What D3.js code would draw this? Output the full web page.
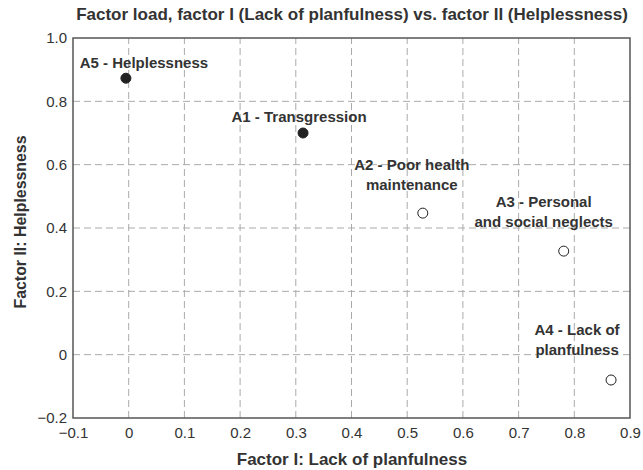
<!DOCTYPE html>
<html>
  <head>
    <meta charset="utf-8">
    <title>Factor load</title>
    <script src="https://d3js.org/d3.v7.min.js"></script>
    <style>
      body { margin: 0; background: #fff; font-family: "Liberation Sans", Arial, sans-serif; }
      .tick text { font-size: 15px; fill: #333; }
      .grid line { stroke: #aaa; stroke-dasharray: 7,4; }
      .lbl { font-size: 15px; font-weight: bold; fill: #333; }
      .ttl { font-size: 17px; font-weight: bold; fill: #333; }
    </style>
  </head>
  <body>
    <svg id="chart" width="643" height="470"></svg>
    <script>
      // data
      var names = ["A5", "A1", "A2", "A3", "A4"];
      var factor1 = [-0.005, 0.313, 0.528, 0.781, 0.866];
      var factor2 = [0.873, 0.700, 0.447, 0.327, -0.080];
      var filled = [true, true, false, false, false];
      var labels = [
        ["A5 - Helplessness"],
        ["A1 - Transgression"],
        ["A2 - Poor health", "maintenance"],
        ["A3 - Personal", "and social neglects"],
        ["A4 - Lack of", "planfulness"]
      ];
      var xTicks = [-0.1, 0, 0.1, 0.2, 0.3, 0.4, 0.5, 0.6, 0.7, 0.8, 0.9];
      var yTicks = [-0.2, 0, 0.2, 0.4, 0.6, 0.8, 1.0];

      // label placement relative to point (px)
      var labelOffsets = [[18, -10], [-4, -11], [-11, -43], [-20, -44], [-34, -45]];

      var margin = { top: 38, right: 13, bottom: 52, left: 73 };
      var width = 643, height = 470;
      var svg = d3.select("#chart");

      var x = d3.scaleLinear().domain([-0.1, 0.9]).range([margin.left, width - margin.right]);
      var y = d3.scaleLinear().domain([-0.2, 1.0]).range([height - margin.bottom, margin.top]);

      var fmt = function(d) { return d === 0 ? "0" : d3.format(".1f")(d); };

      // grid
      svg.append("g").attr("class", "grid")
        .selectAll("line").data(xTicks.slice(1, -1)).enter().append("line")
          .attr("x1", function(d) { return x(d); }).attr("x2", function(d) { return x(d); })
          .attr("y1", y(-0.2)).attr("y2", y(1.0));
      svg.append("g").attr("class", "grid")
        .selectAll("line").data(yTicks.slice(1, -1)).enter().append("line")
          .attr("y1", function(d) { return y(d); }).attr("y2", function(d) { return y(d); })
          .attr("x1", x(-0.1)).attr("x2", x(0.9));

      // axes
      var xAxis = d3.axisBottom(x).tickValues(xTicks).tickFormat(fmt).tickSize(0).tickPadding(7);
      var yAxis = d3.axisLeft(y).tickValues(yTicks).tickFormat(fmt).tickSize(0).tickPadding(6);
      svg.append("g").attr("transform", "translate(0," + (height - margin.bottom) + ")").call(xAxis)
        .call(function(g) { g.select(".domain").remove(); })
        .selectAll("text").attr("dy", "0.85em");
      svg.append("g").attr("transform", "translate(" + margin.left + ",0)").call(yAxis)
        .call(function(g) { g.select(".domain").remove(); });

      // frame
      svg.append("rect")
        .attr("x", x(-0.1)).attr("y", y(1.0))
        .attr("width", x(0.9) - x(-0.1)).attr("height", y(-0.2) - y(1.0))
        .attr("fill", "none").attr("stroke", "#555").attr("stroke-width", 1.5);

      // points
      svg.append("g").selectAll("circle").data(names).enter().append("circle")
        .attr("cx", function(d, i) { return x(factor1[i]); })
        .attr("cy", function(d, i) { return y(factor2[i]); })
        .attr("r", 5)
        .attr("fill", function(d, i) { return filled[i] ? "#222" : "#fff"; })
        .attr("stroke", "#222").attr("stroke-width", 1);

      // labels
      names.forEach(function(n, i) {
        var lx = x(factor1[i]) + labelOffsets[i][0];
        var t = svg.append("text").attr("class", "lbl")
          .attr("text-anchor", "middle")
          .attr("x", lx)
          .attr("y", y(factor2[i]) + labelOffsets[i][1]);
        labels[i].forEach(function(line, j) {
          t.append("tspan").attr("x", lx).attr("dy", j === 0 ? 0 : 20).text(line);
        });
      });

      // titles
      svg.append("text").attr("class", "ttl").attr("x", 352).attr("y", 20).attr("text-anchor", "middle")
        .text("Factor load, factor I (Lack of planfulness) vs. factor II (Helplessness)");
      svg.append("text").attr("class", "ttl").attr("x", 352).attr("y", 465).attr("text-anchor", "middle")
        .text("Factor I: Lack of planfulness");
      svg.append("text").attr("class", "ttl").attr("transform", "translate(26,222) rotate(-90)")
        .attr("text-anchor", "middle")
        .attr("textLength", 173).attr("lengthAdjust", "spacingAndGlyphs")
        .text("Factor II: Helplessness");
    </script>
  </body>
</html>
